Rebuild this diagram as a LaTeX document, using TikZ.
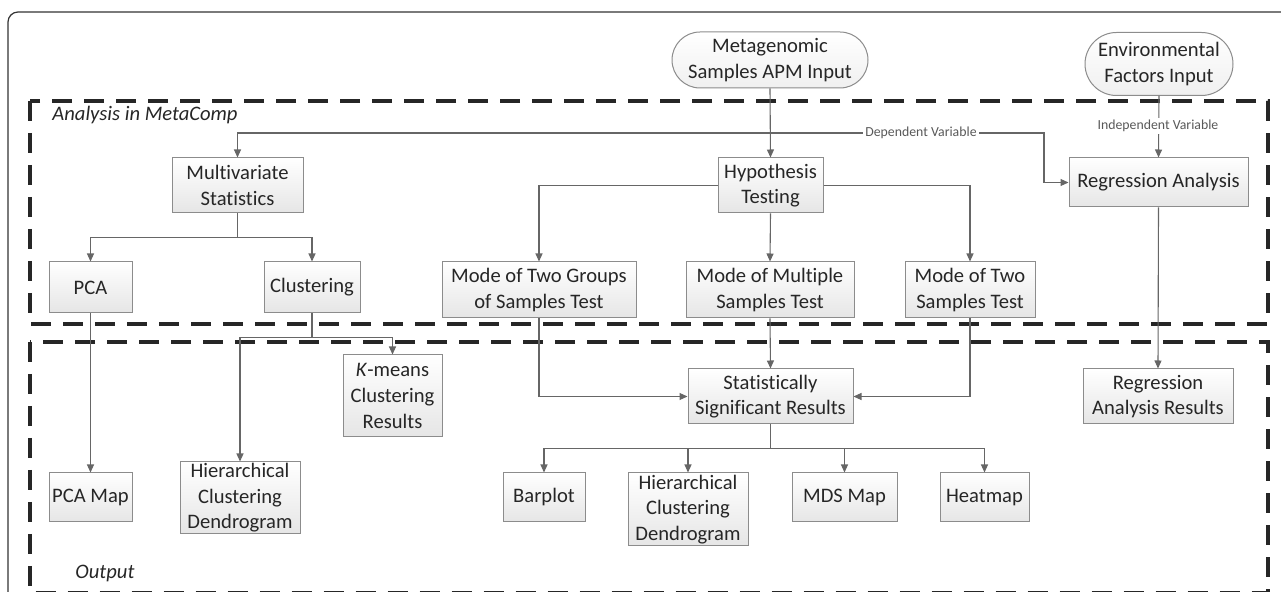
\documentclass[tikz,border=0pt]{standalone}
\usepackage{fontspec}
\setmainfont{Carlito}[Ligatures=NoCommon]
\usetikzlibrary{arrows.meta,shapes.misc}
\begin{document}
\begin{tikzpicture}[x=0.5pt,y=-0.5pt,
  box/.style={draw=black!45, top color=white, bottom color=black!10, align=center, inner sep=0pt, line width=0.5pt, text=black!85, font=\fontsize{10.3}{12.8}\selectfont},
  pill/.style={rounded rectangle, draw=black!45, top color=white, bottom color=black!6, align=center, inner sep=0pt, line width=0.5pt, text=black!85, font=\fontsize{10.3}{12.8}\selectfont},
  conn/.style={draw=black!60, line width=0.55pt},
  arr/.style={conn, -{Triangle[length=4pt,width=3.5pt]}},
  region/.style={draw=black!85, line width=1.7pt, dash pattern=on 10pt off 6pt},
  lab/.style={font=\fontsize{6.9}{8}\selectfont, text=black!65, fill=white, inner sep=1pt},
  title/.style={font=\fontsize{10.3}{12.8}\selectfont\itshape, text=black!85, anchor=west, inner sep=0pt}
]
\useasboundingbox (0,0) rectangle (1281,592);
% outer frame
\draw[black!80, line width=0.6pt, rounded corners=5pt] (1300,12) -- (8,12) -- (8,620);
% regions
\draw[region] (30,101) rectangle (1268,324);
\draw[region] (30,342) rectangle (1268,592.5);
\node[title] (tana) at (52,115) {Analysis in MetaComp};
\node[title] (tout) at (75,573) {Output};

% nodes
\node[pill, minimum width=98pt, minimum height=28pt] (meta) at (770,60) {Metagenomic\\Samples APM Input};
\node[pill, minimum width=74pt, minimum height=31.5pt] (env) at (1159,64) {Environmental\\Factors Input};
\node[box, minimum width=65.5pt, minimum height=27.5pt] (multi) at (237.5,185.5) {Multivariate\\Statistics};
\node[box, minimum width=52.5pt, minimum height=27.5pt] (hyp) at (770.5,185.5) {Hypothesis\\Testing};
\node[box, minimum width=89.5pt, minimum height=24.5pt] (reg) at (1158.5,182.5) {Regression Analysis};
\node[box, minimum width=41.5pt, minimum height=25.5pt] (pca) at (90.5,287.5) {PCA};
\node[box, minimum width=48pt, minimum height=25.5pt] (clus) at (312,287.5) {Clustering};
\node[box, minimum width=97pt, minimum height=28pt] (m2g) at (539,290) {Mode of Two Groups\\of Samples Test};
\node[box, minimum width=84pt, minimum height=28pt] (mmul) at (770,290) {Mode of Multiple\\Samples Test};
\node[box, minimum width=65pt, minimum height=28pt] (m2s) at (970,290) {Mode of Two\\Samples Test};
\node[box, minimum width=49.5pt, minimum height=41pt] (kmeans) at (392.5,396) {\textit{K}-means\\Clustering\\Results};
\node[box, minimum width=82.5pt, minimum height=27.5pt] (stat) at (770.5,396.5) {Statistically\\Significant Results};
\node[box, minimum width=75pt, minimum height=27.5pt] (regres) at (1158,396.5) {Regression\\Analysis Results};
\node[box, minimum width=41.5pt, minimum height=24.5pt] (pcamap) at (90.5,497.5) {PCA Map};
\node[box, minimum width=60pt, minimum height=36pt] (hier1) at (240,498) {Hierarchical\\Clustering\\Dendrogram};
\node[box, minimum width=41pt, minimum height=24.5pt] (barplot) at (544,497.5) {Barplot};
\node[box, minimum width=60pt, minimum height=36.5pt] (hier2) at (688,509.5) {Hierarchical\\Clustering\\Dendrogram};
\node[box, minimum width=52.5pt, minimum height=24.5pt] (mds) at (844.5,497.5) {MDS Map};
\node[box, minimum width=44.5pt, minimum height=24.5pt] (heat) at (984.5,497.5) {Heatmap};

% connectors
\coordinate (dv) at (770,133);
\coordinate (dvr) at (1044,133);
\draw[arr] (meta.south) -- (hyp.north);
\draw[arr] (dv) -| (multi.north);
\draw[arr] (dv) -- (dvr) |- (reg.west);
\node[lab] (ldv) at (921,133) {Dependent Variable};
\draw[arr] (env.south) -- (reg.north);
\node[lab] (liv) at (1158,126) {Independent Variable};

\draw[arr] (multi.south) -- ++(0,24) -| (pca.north);
\draw[arr] (multi.south) -- ++(0,24) -| (clus.north);

\draw[arr] (hyp.west) -| (m2g.north);
\draw[arr] (hyp.east) -| (m2s.north);
\draw[arr] (hyp.south) -- (mmul.north);

\draw[arr] (reg.south) -- (regres.north);
\draw[arr] (pca.south) -- (pcamap.north);
\draw[arr] (clus.south) -- ++(0,24) -| (hier1.north);
\draw[arr] (clus.south) -- ++(0,24) -| (kmeans.north);

\draw[arr] (m2g.south) |- (stat.west);
\draw[arr] (m2s.south) |- (stat.east);
\draw[arr] (mmul.south) -- (stat.north);

\draw[arr] (stat.south) -- ++(0,24) -| (barplot.north);
\draw[arr] (stat.south) -- ++(0,24) -| (hier2.north);
\draw[arr] (stat.south) -- ++(0,24) -| (mds.north);
\draw[arr] (stat.south) -- ++(0,24) -| (heat.north);
\end{tikzpicture}
\end{document}
